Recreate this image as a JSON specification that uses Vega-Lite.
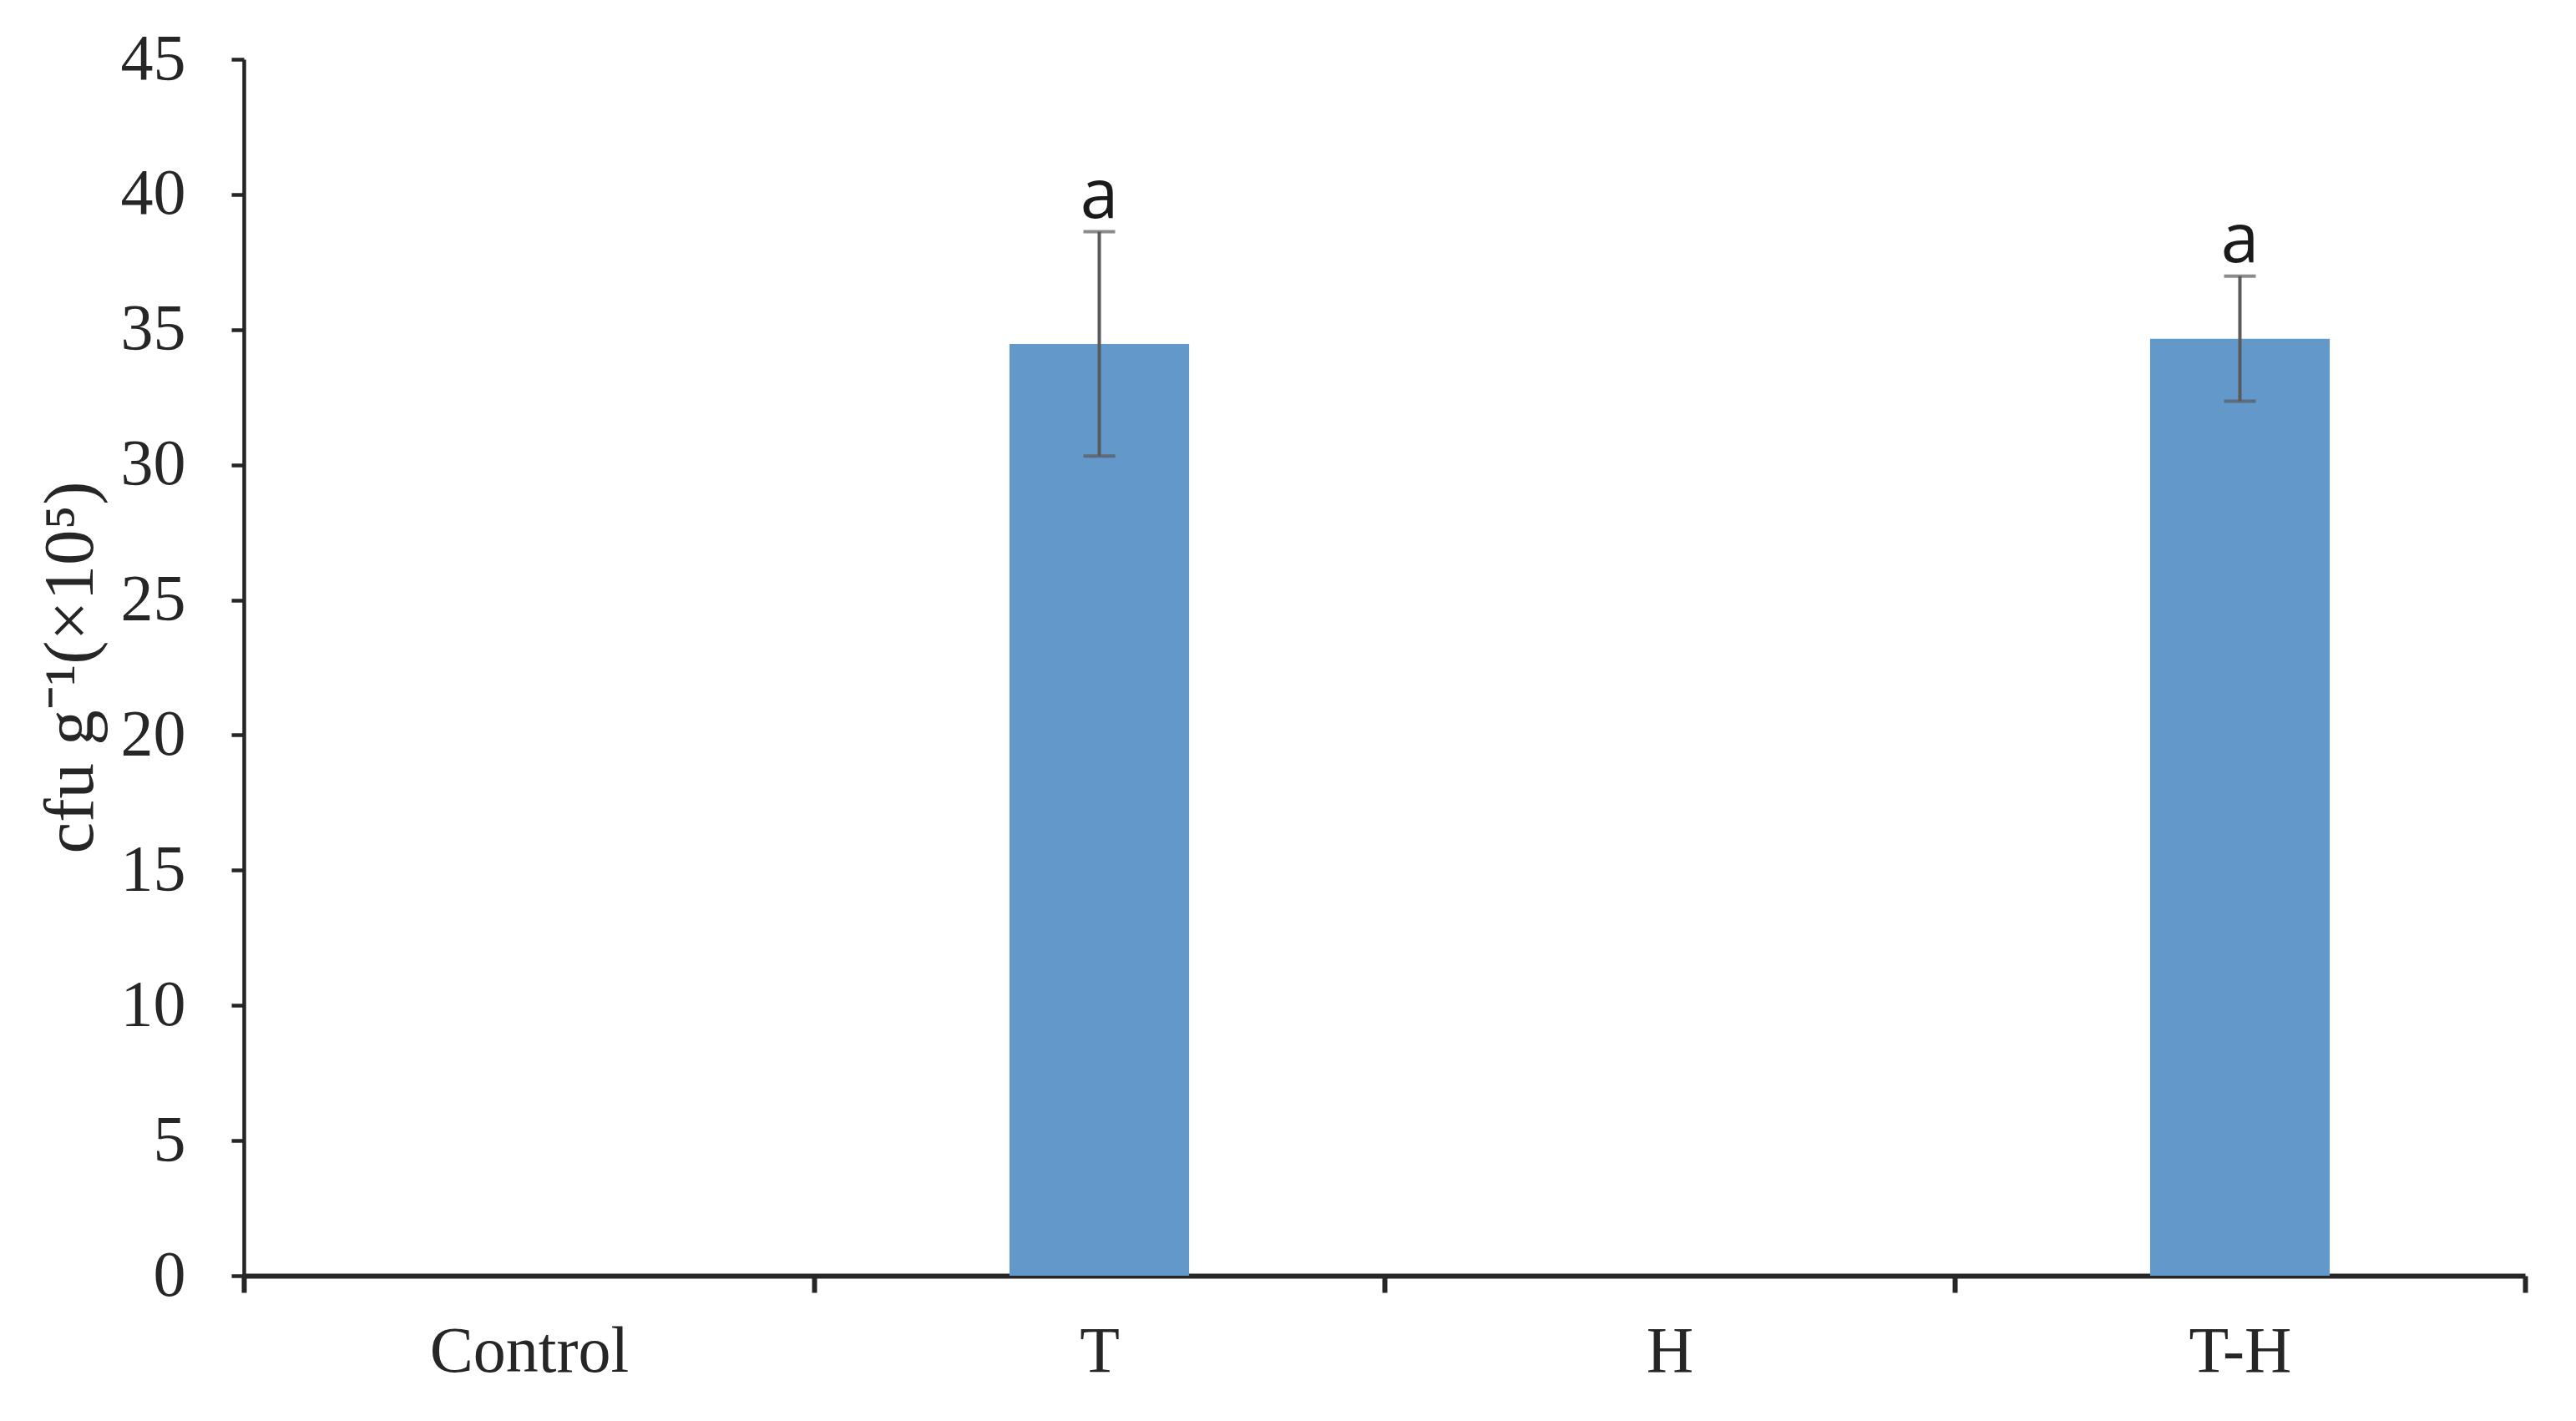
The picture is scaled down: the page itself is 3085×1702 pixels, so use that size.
{
  "$schema": "https://vega.github.io/schema/vega-lite/v6.json",
  "width": 2732,
  "height": 1457,
  "autosize": {"type": "none"},
  "padding": {"left": 292, "top": 71, "right": 61, "bottom": 174},
  "background": "white",
  "config": {"view": {"stroke": null}},
  "data": {
    "values": [
      {"group": "Control", "mean": 0, "lo": null, "hi": null, "sig": ""},
      {"group": "T", "mean": 34.47, "lo": 30.32, "hi": 38.62, "sig": "a"},
      {"group": "H", "mean": 0, "lo": null, "hi": null, "sig": ""},
      {"group": "T-H", "mean": 34.66, "lo": 32.35, "hi": 36.98, "sig": "a"}
    ]
  },
  "encoding": {
    "x": {
      "field": "group",
      "type": "nominal",
      "sort": ["Control", "T", "H", "T-H"],
      "scale": {"paddingInner": 0, "paddingOuter": 0},
      "axis": {
        "title": null,
        "labelAngle": 0,
        "labelLimit": 0,
        "labelFont": "Times New Roman, Liberation Serif, serif",
        "labelFontSize": 78,
        "labelColor": "#262626",
        "labelBaseline": "alphabetic",
        "labelPadding": 94,
        "tickBand": "extent",
        "tickSize": 20,
        "tickWidth": 6,
        "tickColor": "#262626",
        "domainColor": "#262626",
        "domainWidth": 6
      }
    }
  },
  "layer": [
    {
      "mark": {"type": "bar", "color": "#6398CA", "width": {"band": 0.315}},
      "encoding": {
        "y": {
          "field": "mean",
          "type": "quantitative",
          "scale": {"domain": [0, 45], "nice": false},
          "axis": {
            "values": [0, 5, 10, 15, 20, 25, 30, 35, 40, 45],
            "grid": false,
            "labelFont": "Times New Roman, Liberation Serif, serif",
            "labelFontSize": 78,
            "labelColor": "#262626",
            "labelPadding": 55,
            "tickSize": 15,
            "tickWidth": 4.5,
            "tickColor": "#262626",
            "domainColor": "#262626",
            "domainWidth": 4.5,
            "title": "cfu g⁻¹(×10⁵)",
            "titleFont": "Times New Roman, Liberation Serif, serif",
            "titleFontSize": 85,
            "titleFontWeight": "normal",
            "titleColor": "#262626",
            "titleAngle": -90,
            "titleX": -182,
            "titleY": 728,
            "titleBaseline": "alphabetic",
            "titleAlign": "center",
            "titleLimit": 0
          }
        }
      }
    },
    {
      "transform": [{"filter": "datum.hi != null"}],
      "mark": {"type": "rule", "color": "#5a5a5a", "strokeWidth": 4},
      "encoding": {
        "y": {"field": "lo", "type": "quantitative"},
        "y2": {"field": "hi"}
      }
    },
    {
      "transform": [{"filter": "datum.hi != null"}],
      "mark": {"type": "tick", "color": "#5a5a5a", "thickness": 4, "size": 38},
      "encoding": {"y": {"field": "hi", "type": "quantitative"}}
    },
    {
      "transform": [{"filter": "datum.hi != null"}],
      "mark": {"type": "tick", "color": "#5a5a5a", "thickness": 4, "size": 38},
      "encoding": {"y": {"field": "lo", "type": "quantitative"}}
    },
    {
      "transform": [{"filter": "datum.hi != null"}],
      "mark": {"type": "text", "font": "Open Sans", "fontSize": 82, "baseline": "alphabetic", "dy": -17, "color": "#1a1a1a"},
      "encoding": {
        "y": {"field": "hi", "type": "quantitative"},
        "text": {"field": "sig", "type": "nominal"}
      }
    }
  ]
}
